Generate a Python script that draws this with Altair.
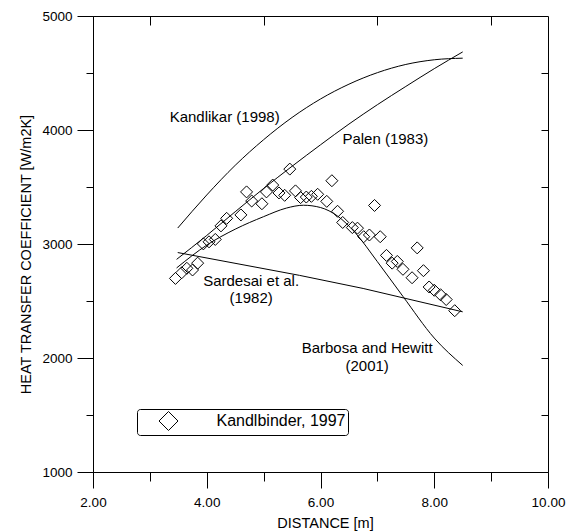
import altair as alt
import pandas as pd

FONT = "Liberation Sans"

# ---- correlation curves ----
kand_x = [3.49, 4.0, 4.5, 5.0, 5.5, 6.0, 6.5, 7.0, 7.5, 8.0, 8.5]
kand_y = [3140, 3430, 3690, 3915, 4110, 4272, 4402, 4503, 4575, 4616, 4630]

palen_x = [3.47, 4.0, 4.5, 5.0, 5.5, 6.0, 6.5, 7.0, 7.5, 8.0, 8.5]
palen_y = [2865, 3075, 3283, 3487, 3682, 3870, 4052, 4222, 4382, 4538, 4685]

sard_x = [3.49, 5.63, 6.75, 8.5]
sard_y = [2925, 2725, 2610, 2405]

barb_x = [3.47, 4.0, 4.5, 5.0, 5.4, 5.7, 6.0, 6.3, 6.6, 7.0, 7.45, 8.0, 8.5]
barb_y = [2790, 2990, 3130, 3240, 3315, 3340, 3320, 3245, 3105, 2845, 2540, 2175, 1935]

# ---- experimental data (Kandlbinder, 1997) ----
exp_x = [3.45, 3.56, 3.65, 3.75, 3.84, 3.94, 4.04, 4.15, 4.25, 4.35, 4.60, 4.70,
         4.79, 4.97, 5.05, 5.16, 5.27, 5.37, 5.46, 5.56, 5.65, 5.75, 5.84, 5.95,
         6.11, 6.20, 6.30, 6.39, 6.56, 6.65, 6.76, 6.86, 6.95, 7.05, 7.16, 7.26,
         7.35, 7.45, 7.61, 7.70, 7.81, 7.91, 8.00, 8.11, 8.21, 8.36]
exp_y = [2698, 2748, 2787, 2772, 2832, 3001, 3019, 3040, 3159, 3225, 3255, 3457,
         3377, 3353, 3457, 3517, 3448, 3427, 3657, 3466, 3407, 3412, 3418, 3436,
         3374, 3555, 3287, 3189, 3144, 3139, 3064, 3079, 3338, 3064, 2900, 2832,
         2847, 2778, 2704, 2966, 2766, 2623, 2594, 2555, 2513, 2415]
exp_name = "Kandlbinder, 1997"

# ---- annotation labels ----
lab_text = ["Kandlikar (1998)", "Palen (1983)", "Sardesai et al.", "(1982)",
            "Barbosa and Hewitt", "(2001)"]
lab_x = [4.315, 7.14, 4.78, 4.78, 6.82, 6.82]
lab_y = [4114, 3921, 2675, 2528, 2088, 1930]

x_ticks = [2, 4, 6, 8, 10]
x_minor = [3, 5, 7, 9]
y_ticks = [1000, 2000, 3000, 4000, 5000]
y_minor = [1500, 2500, 3500, 4500]
y_right = [1500, 2000, 2500, 3000, 3500, 4000, 4500]

rows = []
for name, xs, ys in [("Kandlikar", kand_x, kand_y), ("Palen", palen_x, palen_y),
                     ("Barbosa", barb_x, barb_y)]:
    rows += [{"series": name, "x": a, "y": b} for a, b in zip(xs, ys)]
curves = pd.DataFrame(rows)
sard = pd.DataFrame({"x": sard_x, "y": sard_y})
exp = pd.DataFrame({"x": exp_x, "y": exp_y, "src": exp_name})
labels = pd.DataFrame({"x": lab_x, "y": lab_y, "t": lab_text})

xs = alt.Scale(domain=[2, 10], nice=False, zero=False)
ys = alt.Scale(domain=[1000, 5000], nice=False, zero=False)

common = dict(grid=False, tickColor="black", domainColor="black", labelFlush=False,
              labelFont=FONT, labelColor="black", titleFont=FONT, titleColor="black",
              titleFontWeight="normal", tickWidth=1)

ax_x_major = alt.Axis(orient="bottom", values=x_ticks, format=".2f", tickSize=16,
                      labelPadding=7, labelFontSize=13.5, title="DISTANCE [m]",
                      titleFontSize=14.5, titleX=232, titleY=51, titleAlign="center",
                      titleBaseline="middle", **common)
ax_y_major = alt.Axis(orient="left", values=y_ticks, format="d", tickSize=16,
                      labelPadding=5, labelFontSize=13.5,
                      title="HEAT TRANSFER COEFFICIENT [W/m2K]", titleFontSize=14.5,
                      titleX=-67, titleY=238, titleAngle=270, titleAlign="center",
                      titleBaseline="middle", **common)
ax_x_minor = alt.Axis(orient="bottom", values=x_minor, tickSize=9, labels=False,
                      domain=False, title=None, grid=False, tickColor="black")
ax_y_minor = alt.Axis(orient="left", values=y_minor, tickSize=7, labels=False,
                      domain=False, title=None, grid=False, tickColor="black")
ax_x_top = alt.Axis(orient="top", values=x_minor, tickSize=9, offset=-9, labels=False,
                    domain=False, title=None, grid=False, tickColor="black")
ax_y_right = alt.Axis(orient="right", values=y_right, tickSize=7, offset=-7,
                      labels=False, domain=False, title=None, grid=False,
                      tickColor="black")

lines = alt.Chart(curves).mark_line(color="black", strokeWidth=1,
                                     interpolate="monotone").encode(
    x=alt.X("x:Q", scale=xs, axis=ax_x_major),
    y=alt.Y("y:Q", scale=ys, axis=ax_y_major),
    detail="series:N",
)

sard_line = alt.Chart(sard).mark_line(color="black", strokeWidth=1).encode(
    x=alt.X("x:Q", scale=xs, axis=None),
    y=alt.Y("y:Q", scale=ys, axis=None),
)

points = alt.Chart(exp).mark_point(filled=False, color="black", size=144,
                                    strokeWidth=1, opacity=1).encode(
    x=alt.X("x:Q", scale=xs, axis=ax_x_minor),
    y=alt.Y("y:Q", scale=ys, axis=ax_y_minor),
    shape=alt.Shape("src:N", scale=alt.Scale(domain=[exp_name], range=["diamond"]),
                    legend=alt.Legend(title=None, orient="none", legendX=44, legendY=393,
                                      direction="vertical", strokeColor="black",
                                      fillColor="white", cornerRadius=3, padding=2,
                                      symbolSize=360, symbolStrokeColor="black",
                                      symbolFillColor="transparent",
                                      symbolStrokeWidth=1, symbolOffset=19.5,
                                      labelOffset=38, labelFont=FONT,
                                      labelFontSize=16, labelColor="black")),
)

texts = alt.Chart(labels).mark_text(font=FONT, fontSize=15, color="black",
                                     align="center", baseline="middle").encode(
    x=alt.X("x:Q", scale=xs, axis=ax_x_top),
    y=alt.Y("y:Q", scale=ys, axis=ax_y_right),
    text="t:N",
)

chart = alt.layer(lines, sard_line, points, texts).resolve_axis(
    x="independent", y="independent"
).properties(
    width=455, height=456,
    autosize=alt.AutoSizeParams(type="none"),
    padding={"left": 93, "top": 16, "right": 18, "bottom": 60},
    background="white",
).configure_view(stroke="black", strokeWidth=1)

chart.save("out.html", embed_options={"renderer": "svg", "actions": False})
